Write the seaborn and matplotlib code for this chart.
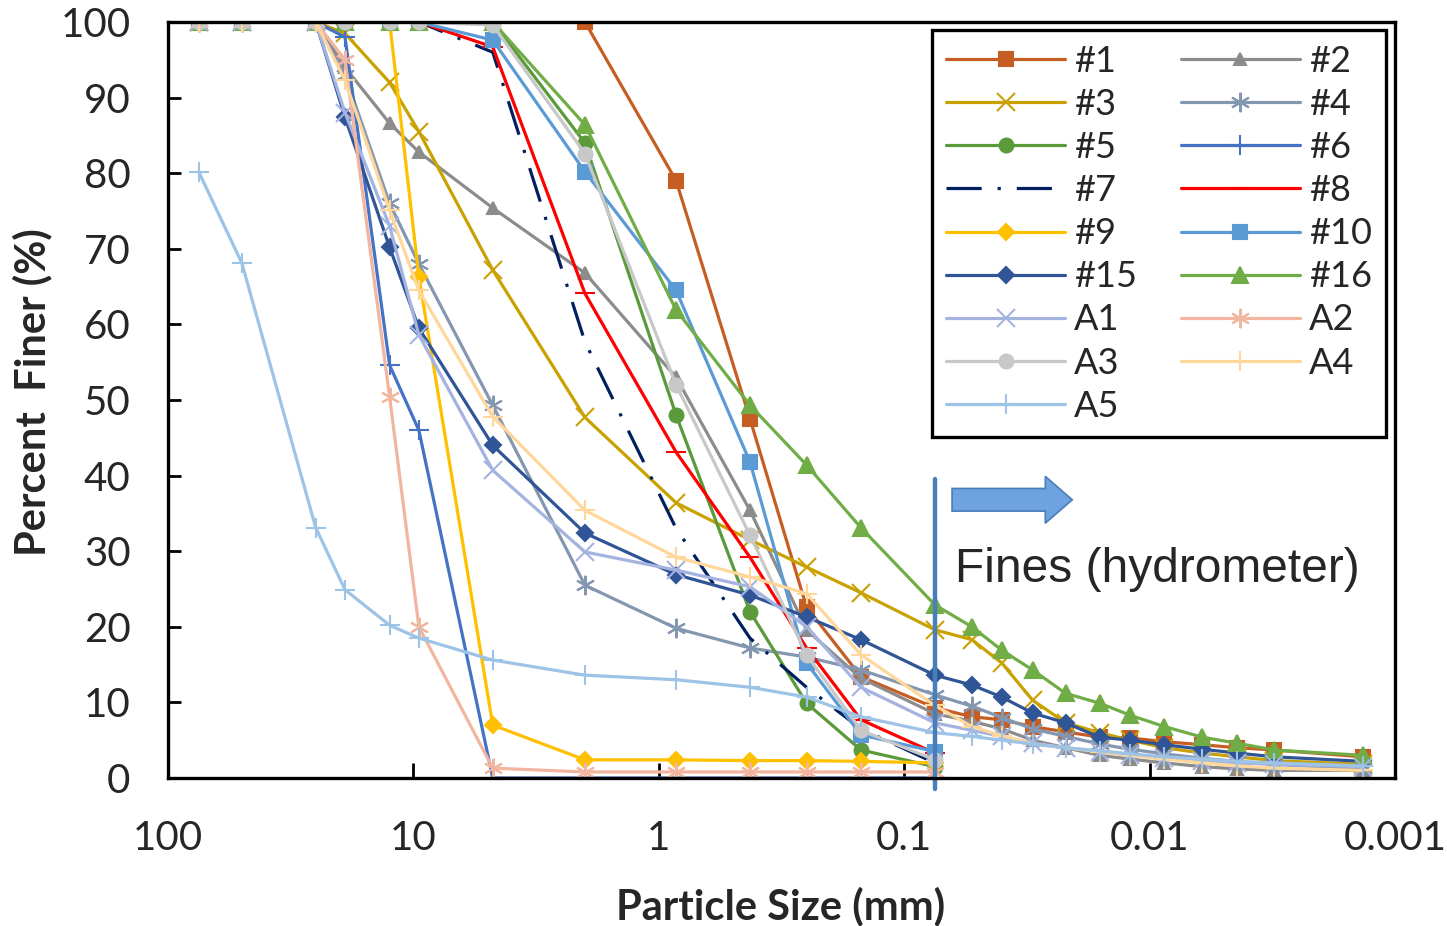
import numpy as np
import pandas as pd
import matplotlib
matplotlib.use("Agg")
import matplotlib.pyplot as plt
import matplotlib.patches as mpatches
from matplotlib.ticker import FixedLocator, LogLocator, MultipleLocator, NullFormatter, FixedFormatter
import seaborn as sns

# sieve openings and hydrometer diameters (mm)
sieve_mm = [75, 50, 25, 19, 12.5, 9.5, 4.75, 2.0, 0.85, 0.425, 0.25, 0.15, 0.075]
hydro_mm = [0.053, 0.040, 0.030, 0.022, 0.016, 0.012, 0.0087, 0.0061, 0.0044, 0.0031, 0.00135]

# percent finer, sieve part
p1 = [100, 100, 100, 100, 100, 100, 100, 100, 79, 47.5, 22.6, 13.4, 9.3]
p2 = [100, 100, 100, 94, 86.6, 82.8, 75.4, 66.8, 53, 35.4, 19.6, 13.2, 8.5]
p3 = [100, 100, 100, 98.5, 92, 85.5, 67.2, 47.7, 36.4, 31.5, 27.9, 24.5, 19.6]
p4 = [100, 100, 100, 93, 76, 68, 49.3, 25.5, 19.8, 17.2, 16, 14.3, 11]
p5 = [100, 100, 100, 100, 100, 100, 100, 84, 48, 22, 9.9, 3.7, 1.5]
p6 = [100, 100, 100, 98, 54.6, 46, 0, 0, 0, 0, 0, 0, 0]
p7 = [100, 100, 100, 100, 100, 100, 96, 57.7, 33, 18.5, 12, 6.5, 2]
p8 = [100, 100, 100, 100, 100, 100, 96.7, 64.1, 43.1, 29.2, 17.2, 7.7, 3.3]
p9 = [100, 100, 100, 100, 100, 66.3, 7, 2.4, 2.4, 2.3, 2.3, 2.2, 2]
p10 = [100, 100, 100, 100, 100, 100, 97.6, 80.2, 64.5, 41.8, 15.2, 5.7, 3.5]
p15 = [100, 100, 100, 87.4, 70.2, 59.5, 44, 32.4, 26.9, 24.2, 21.3, 18.3, 13.6]
p16 = [100, 100, 100, 100, 100, 100, 100, 86.4, 61.9, 49.3, 41.4, 33.1, 22.9]
pA1 = [100, 100, 100, 88, 73, 58.6, 40.7, 29.9, 27.5, 25.3, 20, 12, 7.3]
pA2 = [100, 100, 100, 95, 50.4, 20, 1.3, 0.8, 0.8, 0.8, 0.8, 0.8, 0.8]
pA3 = [100, 100, 100, 100, 100, 100, 99.6, 82.6, 52, 32.1, 16.3, 6.3, 2.4]
pA4 = [100, 100, 100, 92.3, 75.1, 64.5, 47.8, 35.4, 29.2, 26.6, 24.4, 16.3, 9.6]
pA5 = [80.2, 68.1, 33.1, 24.9, 20.2, 18.5, 15.6, 13.6, 13, 12, 10.7, 8.1, 6]

# percent finer, hydrometer part
h1 = [8.1, 7.7, 6.8, 6.1, 5.4, 5.3, 4.8, 4.4, 4.0, 3.7, 2.8]
h2 = [7.5, 6.5, 5, 4, 3, 2.5, 2, 1.5, 1.2, 1, 1]
h3 = [18.3, 15.2, 10.3, 7.3, 6, 5, 4, 3.3, 2.8, 2.3, 1.8]
h4 = [9.5, 8, 6.5, 5.5, 4.5, 3.8, 3.2, 2.6, 2.2, 1.8, 1.2]
h15 = [12.3, 10.7, 8.6, 7.3, 5.4, 5.0, 4.4, 3.8, 3.3, 2.8, 2.2]
h16 = [20, 16.9, 14.3, 11.2, 9.9, 8.3, 6.8, 5.4, 4.6, 3.7, 3.0]
hA1 = [6.3, 5.5, 4.6, 4, 3.5, 3, 2.6, 2.3, 2, 1.8, 1.5]
hA4 = [6.8, 5.6, 4.5, 4, 3.5, 3, 2.5, 2, 1.6, 1.3, 1.0]
hA5 = [5.5, 5, 4.5, 4, 3.6, 3.2, 2.8, 2.5, 2.2, 2, 1.6]

samples = {
    "#1": p1 + h1, "#2": p2 + h2, "#3": p3 + h3, "#4": p4 + h4,
    "#5": p5, "#6": p6, "#7": p7, "#8": p8, "#9": p9, "#10": p10,
    "#15": p15 + h15, "#16": p16 + h16,
    "A1": pA1 + hA1, "A2": pA2, "A3": pA3, "A4": pA4 + hA4, "A5": pA5 + hA5,
}

asterisk = (6, 2, 0)
styles = {
    "#1": dict(color="#C65E24", marker="s", ms=10),
    "#2": dict(color="#8C8C8C", marker="^", ms=8),
    "#3": dict(color="#C9A100", marker="x", ms=13),
    "#4": dict(color="#8497B0", marker=asterisk, ms=14),
    "#5": dict(color="#5B9A3A", marker="o", ms=10),
    "#6": dict(color="#4472C4", marker="+", ms=14),
    "#7": dict(color="#002060", marker=None, ms=0, ls=(0, (11, 5, 1, 5))),
    "#8": dict(color="#FF0000", marker="_", ms=14),
    "#9": dict(color="#FFC000", marker="D", ms=8),
    "#10": dict(color="#5B9BD5", marker="s", ms=10),
    "#15": dict(color="#2F5597", marker="D", ms=8),
    "#16": dict(color="#70AD47", marker="^", ms=11),
    "A1": dict(color="#A4B3DF", marker="x", ms=13),
    "A2": dict(color="#F2B5A0", marker=asterisk, ms=14),
    "A3": dict(color="#C8C8C8", marker="o", ms=10),
    "A4": dict(color="#FFD79A", marker="+", ms=14),
    "A5": dict(color="#9DC3E6", marker="+", ms=14),
}

rows = []
for name, vals in samples.items():
    sizes = sieve_mm + hydro_mm[:len(vals) - len(sieve_mm)]
    for d, p in zip(sizes, vals):
        rows.append({"sample": name, "size": d, "finer": p})
df = pd.DataFrame(rows)

sns.set_theme(style="white")
plt.rcParams["font.family"] = ["Lato", "DejaVu Sans"]

fig = plt.figure(figsize=(14.47, 9.26), dpi=100)
ax = fig.add_axes([168 / 1447, 1 - 778 / 926, 1227 / 1447, 756 / 926])

handles = {}
for name in samples:
    st = styles[name]
    sub = df[df["sample"] == name]
    sns.lineplot(data=sub, x="size", y="finer", ax=ax, sort=False, estimator=None,
                 errorbar=None, color=st["color"], marker=st["marker"],
                 markersize=st["ms"], markeredgecolor=st["color"],
                 markeredgewidth=1.5, linewidth=2.3,
                 linestyle=st.get("ls", "-"), legend=False)
    handles[name] = ax.lines[-1]

ax.set_xscale("log")
ax.set_xlim(100, 0.001)
ax.set_ylim(0, 100)

xt = [100, 10, 1, 0.1, 0.01, 0.001]
ax.xaxis.set_major_locator(FixedLocator(xt))
ax.xaxis.set_major_formatter(FixedFormatter(["100", "10", "1", "0.1", "0.01", "0.001"]))
ax.xaxis.set_minor_locator(LogLocator(base=10, subs=np.arange(2, 10), numticks=20))
ax.xaxis.set_minor_formatter(NullFormatter())
ax.yaxis.set_major_locator(MultipleLocator(10))
ax.yaxis.set_minor_locator(MultipleLocator(2))

ax.tick_params(axis="both", which="both", direction="in", color="black", width=2)
ax.tick_params(axis="x", which="major", length=11, pad=30, labelsize=29)
ax.tick_params(axis="x", which="minor", length=7)
ax.tick_params(axis="y", which="major", length=9, pad=27, labelsize=29)
ax.tick_params(axis="y", which="minor", length=9)
ax.tick_params(bottom=True, left=True, top=False, right=False)
for s in ax.spines.values():
    s.set_color("black")
    s.set_linewidth(2.4)

ax.set_xlabel("Particle Size (mm)", fontsize=30, fontweight="bold")
ax.set_ylabel("Percent  Finer (%)", fontsize=30, fontweight="bold")
ax.xaxis.set_label_coords(0.499, -0.143)
ax.yaxis.set_label_coords(-0.094, 0.51)

# hydrometer boundary and annotation
ax.axvline(0.075, ymin=-0.015, ymax=0.395, color="#4A7EBB", lw=3.2, clip_on=False)
ax.add_patch(mpatches.FancyArrow(0.639, 0.368, 0.098, 0, width=0.03, head_width=0.062,
                                 head_length=0.022, length_includes_head=True,
                                 transform=ax.transAxes, facecolor="#6FA3E0",
                                 edgecolor="#4A7EBB", lw=1.2))
ax.text(0.641, 0.259, "Fines (hydrometer)", transform=ax.transAxes, fontsize=34.5,
        family=["Liberation Sans", "DejaVu Sans"], ha="left", va="baseline")

order = ["#1", "#3", "#5", "#7", "#9", "#15", "A1", "A3", "A5",
         "#2", "#4", "#6", "#8", "#10", "#16", "A2", "A4"]
leg = ax.legend([handles[n] for n in order], order, ncol=2, loc="upper right",
                bbox_to_anchor=(0.993, 0.989), borderaxespad=0, fontsize=26,
                frameon=True, fancybox=False, edgecolor="black", framealpha=1,
                handlelength=3.3, handletextpad=0.25, labelspacing=0.28,
                columnspacing=1.2, borderpad=0.4)
leg.get_frame().set_linewidth(2.4)

fig.savefig("out.png", dpi=100)
